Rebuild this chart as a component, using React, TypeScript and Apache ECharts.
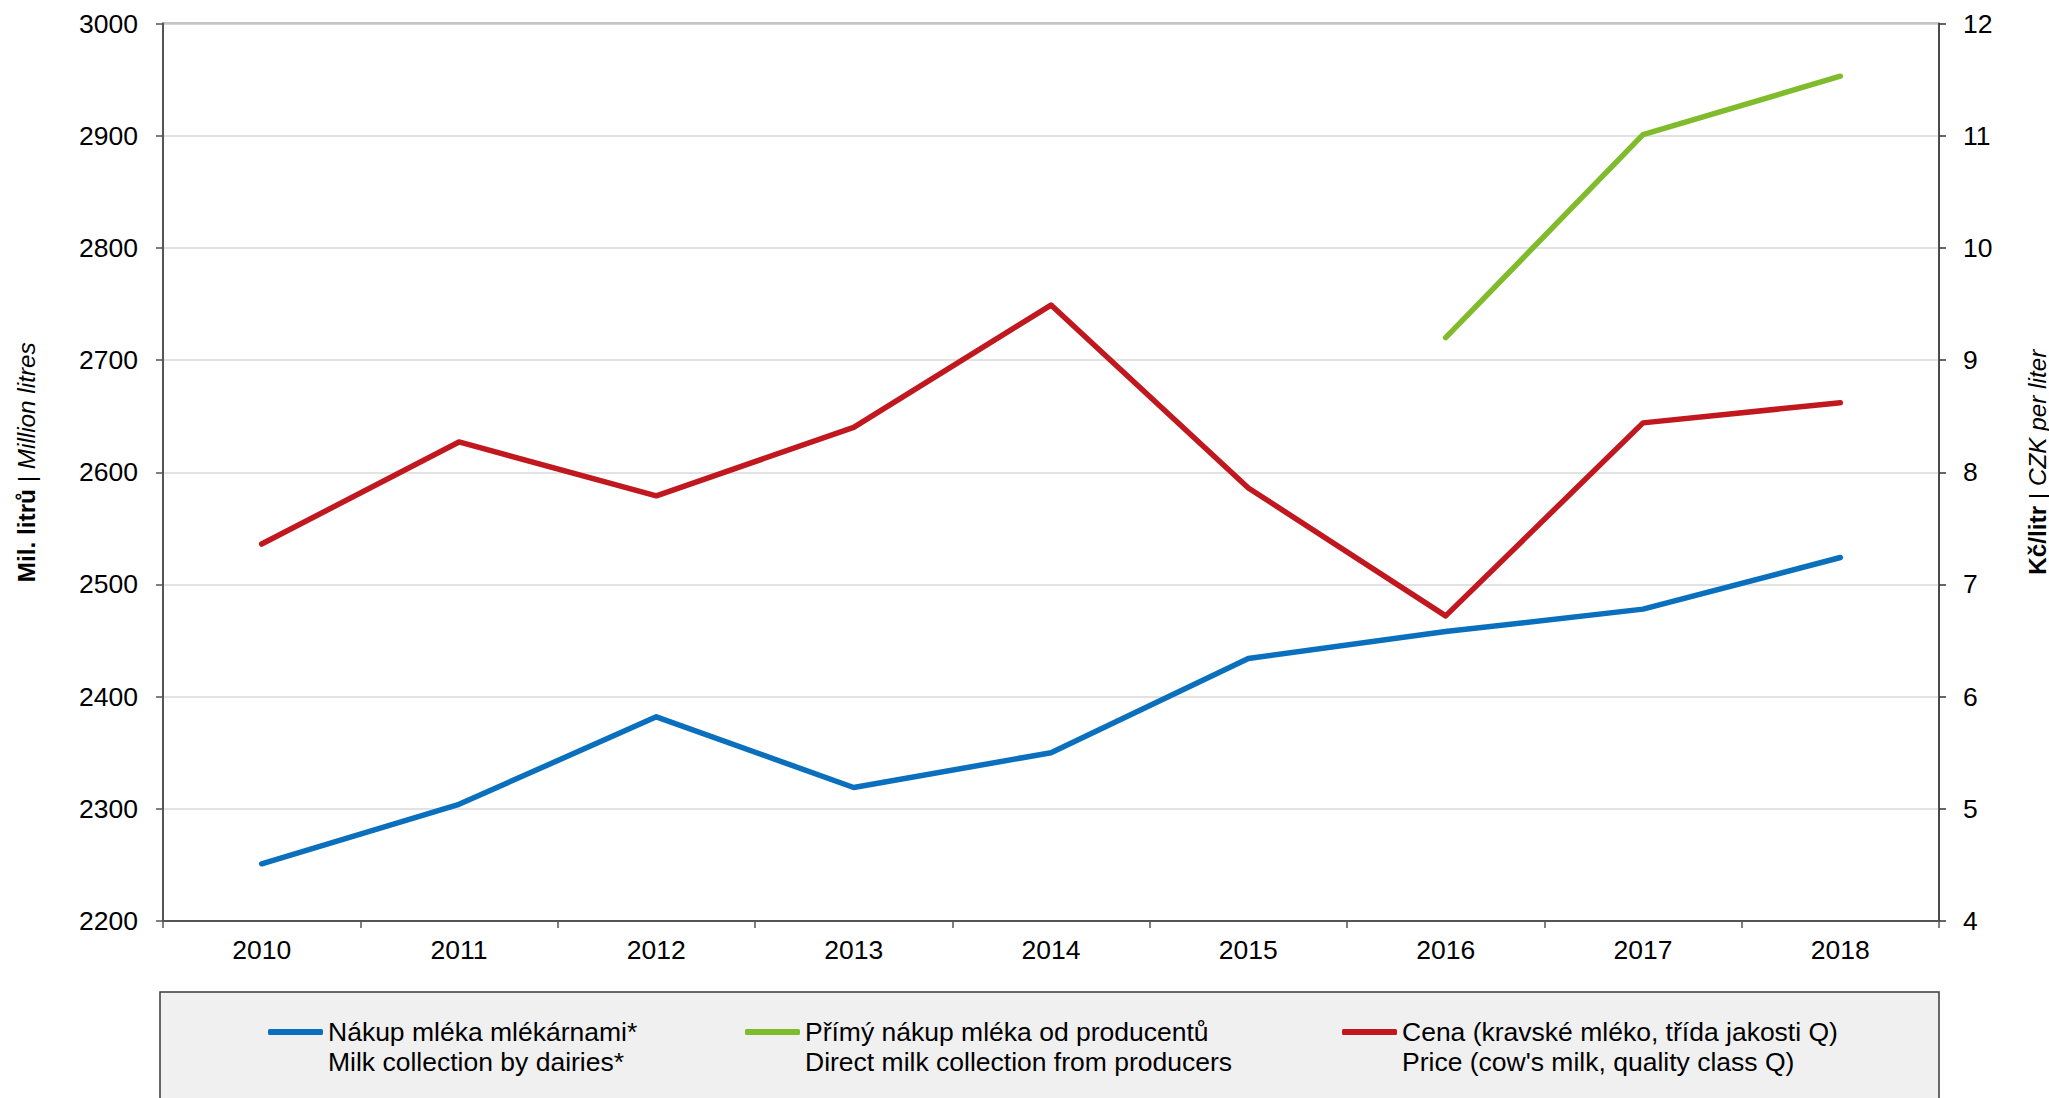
import React, { useEffect, useRef } from "react";
import * as echarts from "echarts";

const years = ["2010", "2011", "2012", "2013", "2014", "2015", "2016", "2017", "2018"];
const dairyCollection = [2251, 2304, 2382, 2319, 2350, 2434, 2458, 2478, 2524];
const directCollection = [null, null, null, null, null, null, 2720, 2901, 2953];
const milkPrice = [7.36, 8.27, 7.79, 8.4, 9.49, 7.86, 6.72, 8.44, 8.62];

const nameBlue = "Nákup mléka mlékárnami*\nMilk collection by dairies*";
const nameGreen = "Přímý nákup mléka od producentů\nDirect milk collection from producers";
const nameRed = "Cena (kravské mléko, třída jakosti Q)\nPrice (cow's milk, quality class Q)";

const FONT = "'Liberation Sans', Arial, sans-serif";
const FS = 26.5;
const NFS = 24.3;

export default function App() {
  const ref = useRef<HTMLDivElement>(null);
  useEffect(() => {
    if (!ref.current) return;
    const chart = echarts.init(ref.current, null, { renderer: "svg" });
    const legendCommon = {
      orient: "horizontal",
      top: 987,
      padding: 0,
      itemWidth: 55,
      itemHeight: 6,
      icon: "roundRect",
      formatter: (n: string) => "\n" + n,
      textStyle: { fontFamily: FONT, fontSize: FS, color: "#000", lineHeight: 30 },
    };
    const nameStyle = {
      fontSize: NFS,
      color: "#000",
      fontFamily: FONT,
      padding: [0, 0, 0, 20],
      rich: {
        b: { fontWeight: "bold", fontSize: NFS, fontFamily: FONT, color: "#000" },
        i: { fontStyle: "italic", fontSize: NFS, fontFamily: FONT, color: "#000" },
      },
    };
    chart.setOption({
      animation: false,
      backgroundColor: "#fff",
      textStyle: { fontFamily: FONT },
      grid: {
        left: 163,
        right: 110,
        top: 23.5,
        bottom: 177,
        outerBoundsMode: "none",
        containLabel: false,
        show: true,
        borderColor: "#8a8a8a",
        borderWidth: 2,
        backgroundColor: "transparent",
      },
      graphic: [
        {
          type: "rect",
          z: -1,
          shape: { x: 160, y: 992, width: 1779, height: 120 },
          style: { fill: "#f0f0f0", stroke: "#3a3a3a", lineWidth: 1.5 },
        },
      ],
      legend: [
        { ...legendCommon, left: 268, data: [nameBlue] },
        { ...legendCommon, left: 745, data: [nameGreen] },
        { ...legendCommon, left: 1342, data: [nameRed] },
      ],
      xAxis: {
        type: "category",
        data: years,
        boundaryGap: true,
        axisLine: { lineStyle: { color: "#555", width: 2 } },
        axisTick: { show: true, length: 7, lineStyle: { color: "#555", width: 1.5 } },
        axisLabel: { fontSize: FS, color: "#000", margin: 15, fontFamily: FONT },
        splitLine: { show: false },
      },
      yAxis: [
        {
          type: "value",
          min: 2200,
          max: 3000,
          interval: 100,
          position: "left",
          name: "{b|Mil. litrů} | {i|Million litres}",
          nameLocation: "middle",
          nameRotate: 90,
          nameGap: 125,
          nameTextStyle: nameStyle,
          axisLine: { show: true, lineStyle: { color: "#555", width: 2 } },
          axisTick: { show: true, length: 7, lineStyle: { color: "#555", width: 1.5 } },
          axisLabel: {
            fontSize: FS,
            color: "#000",
            margin: 25,
            fontFamily: FONT,
            formatter: (v: number) => String(v),
          },
          splitLine: { show: true, lineStyle: { color: "#d9d9d9", width: 1.5 } },
        },
        {
          type: "value",
          min: 4,
          max: 12,
          interval: 1,
          position: "right",
          name: "{b|Kč/litr} | {i|CZK per liter}",
          nameLocation: "middle",
          nameRotate: 90,
          nameGap: 86,
          nameTextStyle: nameStyle,
          axisLine: { show: true, lineStyle: { color: "#333", width: 1.5 } },
          axisTick: { show: true, length: 7, lineStyle: { color: "#333", width: 1.5 } },
          axisLabel: {
            fontSize: FS,
            color: "#000",
            margin: 24,
            fontFamily: FONT,
            formatter: (v: number) => String(v),
          },
          splitLine: { show: false },
        },
      ],
      series: [
        {
          name: nameBlue,
          type: "line",
          yAxisIndex: 0,
          data: dairyCollection,
          showSymbol: false,
          symbol: "none",
          lineStyle: { color: "#0a70bd", width: 5.5, cap: "round", join: "round" },
          itemStyle: { color: "#0a70bd" },
        },
        {
          name: nameGreen,
          type: "line",
          yAxisIndex: 0,
          data: directCollection,
          showSymbol: false,
          symbol: "none",
          lineStyle: { color: "#7fbb2a", width: 5.5, cap: "round", join: "round" },
          itemStyle: { color: "#7fbb2a" },
        },
        {
          name: nameRed,
          type: "line",
          yAxisIndex: 1,
          data: milkPrice,
          showSymbol: false,
          symbol: "none",
          lineStyle: { color: "#c1181f", width: 5.5, cap: "round", join: "round" },
          itemStyle: { color: "#c1181f" },
        },
      ],
    });
    return () => chart.dispose();
  }, []);
  return (
    <div
      ref={ref}
      style={{ position: "fixed", left: 0, top: 0, width: 2049, height: 1098 }}
    />
  );
}
